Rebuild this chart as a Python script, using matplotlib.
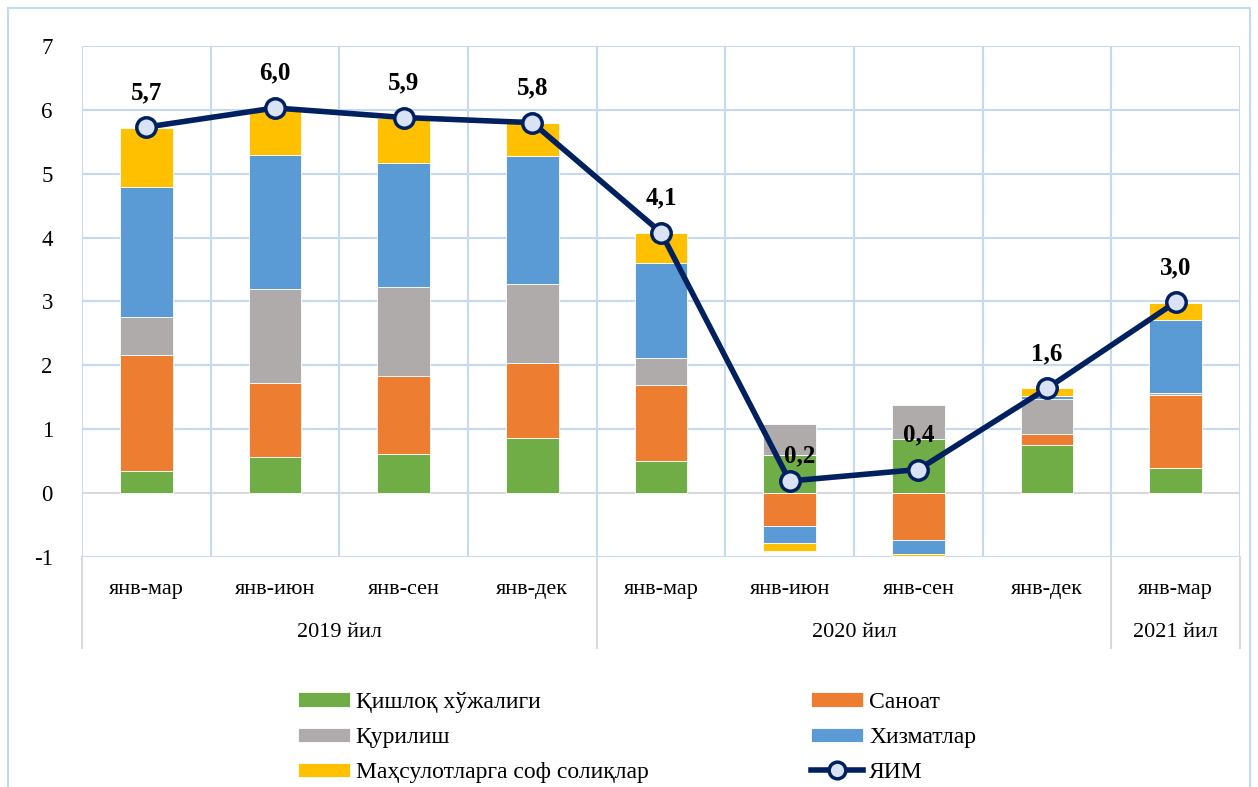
import numpy as np
import matplotlib
matplotlib.use("Agg")
import matplotlib.pyplot as plt
import matplotlib.transforms as mtransforms
from matplotlib.patches import Rectangle
from matplotlib.lines import Line2D

plt.rcParams['font.family'] = ['Liberation Serif', 'DejaVu Serif']
plt.rcParams['axes.unicode_minus'] = False

# data
periods = ['янв-мар', 'янв-июн', 'янв-сен', 'янв-дек',
           'янв-мар', 'янв-июн', 'янв-сен', 'янв-дек', 'янв-мар']
years = ['2019 йил', '2020 йил', '2021 йил']
year_spans = [(0, 3), (4, 7), (8, 8)]

agriculture = [0.34, 0.56, 0.61, 0.87, 0.50, 0.59, 0.84, 0.75, 0.39]
industry = [1.82, 1.17, 1.23, 1.16, 1.19, -0.52, -0.73, 0.18, 1.15]
construction = [0.59, 1.47, 1.38, 1.25, 0.42, 0.50, 0.54, 0.55, 0.03]
services = [2.05, 2.10, 1.95, 2.00, 1.50, -0.26, -0.22, 0.04, 1.14]
taxes = [0.92, 0.73, 0.71, 0.52, 0.47, -0.13, -0.04, 0.12, 0.27]
gdp = [5.73, 6.03, 5.88, 5.80, 4.08, 0.19, 0.37, 1.64, 2.99]
gdp_labels = ['5,7', '6,0', '5,9', '5,8', '4,1', '0,2', '0,4', '1,6', '3,0']

series = [
    ('Қишлоқ хўжалиги', agriculture, '#70ad47'),
    ('Саноат', industry, '#ed7d31'),
    ('Қурилиш', construction, '#afabab'),
    ('Хизматлар', services, '#5b9bd5'),
    ('Маҳсулотларга соф солиқлар', taxes, '#ffc000'),
]

grid_col = '#c5d9f0'
navy = '#002060'

fig = plt.figure(figsize=(12.58, 7.87), dpi=100)
ax = fig.add_axes([0.0652, 0.2922, 0.9205, 0.6494])

# outer chart border
fig.patches.append(Rectangle((8 / 1258, -0.01), 1242 / 1258, 0.9998 - 8 / 787 + 0.01,
                             transform=fig.transFigure, fill=False,
                             edgecolor=grid_col, lw=1.5))

x = np.arange(len(periods))
pos_bottom = np.zeros(len(x))
neg_bottom = np.zeros(len(x))
handles = {}
for name, vals, col in series:
    vals = np.array(vals)
    bottom = np.where(vals >= 0, pos_bottom, neg_bottom)
    b = ax.bar(x, vals, 0.41, bottom=bottom, color=col, edgecolor='white',
               linewidth=0.6, zorder=2)
    handles[name] = b
    pos_bottom += np.where(vals >= 0, vals, 0)
    neg_bottom += np.where(vals < 0, vals, 0)

ax.plot(x, gdp, color=navy, lw=4, marker='o', markersize=14,
        markerfacecolor='#dae3f3', markeredgecolor=navy, markeredgewidth=2.5,
        zorder=4)

label_offsets = [(0, 25)] * 5 + [(7, 18), (0, 25), (0, 25), (0, 25)]
for xi, yi, lab, off in zip(x, gdp, gdp_labels, label_offsets):
    ax.annotate(lab, (xi, yi), xytext=off, textcoords='offset points',
                ha='center', va='center', fontsize=18, fontweight='bold',
                zorder=5)

ax.set_xlim(-0.5, len(periods) - 0.5)
ax.set_ylim(-1, 7)
ax.set_yticks(range(-1, 8))
ax.tick_params(axis='y', length=0, pad=21, labelsize=16.5)
ax.set_xticks([])
for s in ax.spines.values():
    s.set_visible(False)

# gridlines
for yv in range(-1, 8):
    ax.axhline(yv, color='#d9d9d9' if yv == 0 else grid_col, lw=1.5, zorder=1)
for xv in np.arange(-0.5, len(periods), 1.0):
    ax.axvline(xv, color=grid_col, lw=1.5, zorder=1)

# category labels below the plot
trans = mtransforms.blended_transform_factory(ax.transData, ax.transAxes)
for xi, p in zip(x, periods):
    ax.text(xi, -0.063, p, transform=trans, ha='center', va='center',
            fontsize=16)
for (a, b), yr in zip(year_spans, years):
    ax.text((a + b) / 2, -0.147, yr, transform=trans, ha='center',
            va='center', fontsize=16)
for xv in [-0.5, 3.5, 7.5, 8.5]:
    ax.add_line(Line2D([xv, xv], [0, -0.178], transform=trans, color='#d9d9d9',
                       lw=1.5, clip_on=False))

# legend
line_handle = Line2D([], [], color=navy, lw=4, marker='o', markersize=12,
                     markerfacecolor='#dae3f3', markeredgecolor=navy,
                     markeredgewidth=2.5)
order = ['Қишлоқ хўжалиги', 'Қурилиш', 'Маҳсулотларга соф солиқлар',
         'Саноат', 'Хизматлар']
leg_h = [handles[n] for n in order] + [line_handle]
leg_l = order + ['ЯИМ']
fig.legend(leg_h, leg_l, ncol=2, loc='upper left',
           bbox_to_anchor=(286 / 1258, 1 - 680 / 787), frameon=False,
           fontsize=17, handlelength=2.2, handleheight=0.55,
           handletextpad=0.25, labelspacing=0.6, columnspacing=6.9,
           borderpad=0)

fig.savefig('out.png', dpi=100)
